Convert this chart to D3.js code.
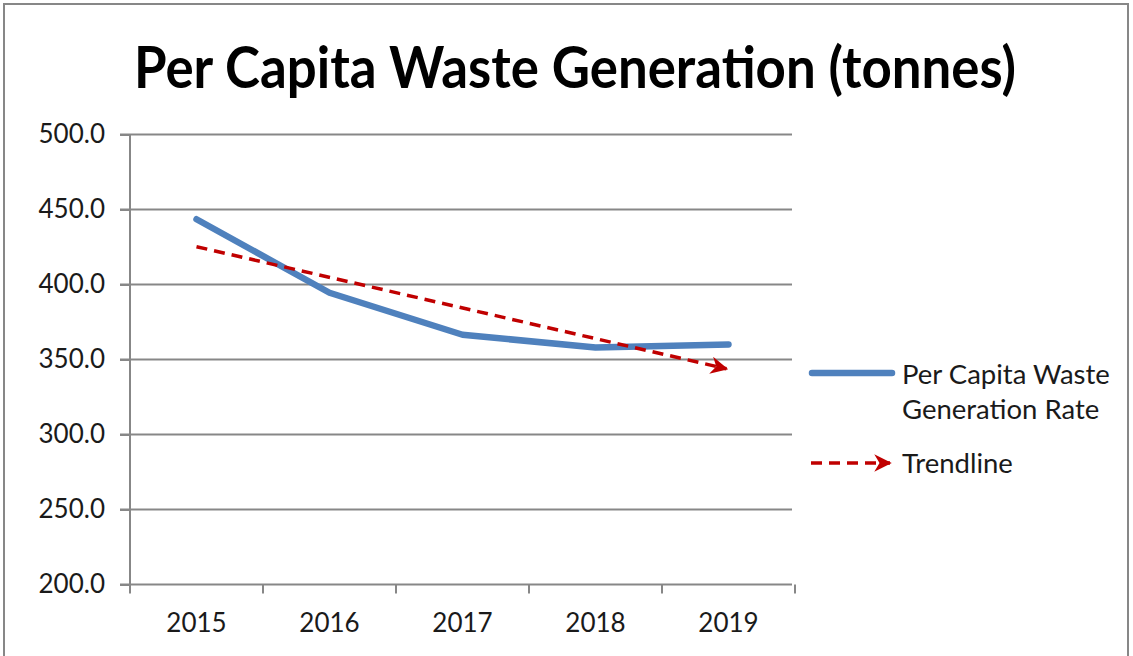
<!DOCTYPE html>
<html><head><meta charset="utf-8">
<script src="https://cdn.jsdelivr.net/npm/d3@7"></script>
<style>body{margin:0;background:#fff}svg{display:block}</style>
</head><body>
<svg id="c" width="1133" height="656"></svg>
<script>
const years = ["2015","2016","2017","2018","2019"];
const wasteValues = [443.5, 394.5, 366.5, 358.0, 360.0];
const yTicks = [200, 250, 300, 350, 400, 450, 500];
const titleText = "Per Capita Waste Generation (tonnes)";
const legendSeries = ["Per Capita Waste", "Generation Rate"];
const legendTrend = "Trendline";

(function(){
const svg = d3.select("#c");
const font = "Lato, 'Open Sans', sans-serif";
const gray = "#878787";
const blue = "#4F81BD", red = "#C00000";
const txt = "#1a1a1a";

// frame
svg.append("rect").attr("x",4).attr("y",4).attr("width",1124).attr("height",660)
  .attr("fill","#fff").attr("stroke",gray).attr("stroke-width",2);

svg.append("text").attr("x",575).attr("y",88).attr("text-anchor","middle")
  .attr("font-family",font).attr("font-weight","bold").attr("font-size",58)
  .attr("textLength",882).attr("lengthAdjust","spacingAndGlyphs")
  .attr("fill","#000").text(titleText);

const pL = 130, pR = 795, pT = 134.5, pB = 584.5;
const x = d3.scaleBand().domain(years).range([pL,pR]);
const y = d3.scaleLinear().domain([200,500]).range([pB,pT]);

// gridlines
svg.append("g").selectAll("line").data(yTicks).join("line")
  .attr("x1",pL-10).attr("x2",pR-3).attr("y1",d=>y(d)).attr("y2",d=>y(d))
  .attr("stroke",gray).attr("stroke-width",2);

// y axis
const ya = svg.append("g").attr("transform",`translate(${pL},0)`)
  .call(d3.axisLeft(y).tickValues(yTicks).tickFormat(d3.format(".1f")).tickSize(10).tickPadding(15));
ya.select(".domain").attr("stroke",gray).attr("stroke-width",2).attr("d",`M0,${pT}V${pB}`);
ya.selectAll(".tick line").attr("stroke",gray).attr("stroke-width",2);
ya.selectAll("text").attr("font-family",font).attr("font-size",26).attr("fill",txt);

// x axis
const xa = svg.append("g").attr("transform",`translate(0,${pB})`)
  .call(d3.axisBottom(x).tickSize(0).tickPadding(29));
xa.select(".domain").remove();
xa.selectAll("text").attr("font-family",font).attr("font-size",26).attr("fill",txt);
svg.append("g").selectAll("line").data(years.concat(["end"])).join("line")
  .attr("x1",(d,i)=>pL+i*x.step()).attr("x2",(d,i)=>pL+i*x.step())
  .attr("y1",pB).attr("y2",pB+9).attr("stroke",gray).attr("stroke-width",2);

// series line
const cx = d=>x(d)+x.bandwidth()/2;
const line = d3.line().x((d,i)=>cx(years[i])).y(d=>y(d));
svg.append("path").datum(wasteValues).attr("d",line).attr("fill","none")
  .attr("stroke",blue).attr("stroke-width",6.5).attr("stroke-linecap","round").attr("stroke-linejoin","round");

// trendline (least squares)
const n = wasteValues.length, xs = d3.range(n);
const mx = d3.mean(xs), my = d3.mean(wasteValues);
const slope = d3.sum(xs,i=>(i-mx)*(wasteValues[i]-my))/d3.sum(xs,i=>(i-mx)**2);
const trend = xs.map(i=>my+slope*(i-mx));

const defs = svg.append("defs");
defs.append("marker").attr("id","arr").attr("viewBox","0 0 10 10").attr("refX",9).attr("refY",5)
  .attr("markerWidth",5).attr("markerHeight",5).attr("markerUnits","strokeWidth").attr("orient","auto")
  .append("path").attr("d","M0,0 L10,5 L0,10 L3,5 Z").attr("fill",red);

const x0 = cx(years[0]), x1 = cx(years[n-1]);
svg.append("line").attr("x1",x0).attr("y1",y(trend[0])).attr("x2",x1-2).attr("y2",y(trend[n-1]))
  .attr("stroke",red).attr("stroke-width",3.5).attr("stroke-dasharray","11,7").attr("marker-end","url(#arr)");

// legend
svg.append("line").attr("x1",812).attr("x2",892).attr("y1",373).attr("y2",373)
  .attr("stroke",blue).attr("stroke-width",6.5).attr("stroke-linecap","round");
svg.append("text").attr("font-family",font).attr("font-size",27.5).attr("fill",txt)
  .selectAll("tspan").data(legendSeries).join("tspan")
  .attr("x",902).attr("y",(d,i)=>384+i*35).text(d=>d);
svg.append("line").attr("x1",811).attr("x2",890).attr("y1",463).attr("y2",463)
  .attr("stroke",red).attr("stroke-width",3.5).attr("stroke-dasharray","11,7").attr("marker-end","url(#arr)");
svg.append("text").attr("x",902).attr("y",473).attr("font-family",font).attr("font-size",27.5)
  .attr("fill",txt).text(legendTrend);
})();
</script>
</body></html>
